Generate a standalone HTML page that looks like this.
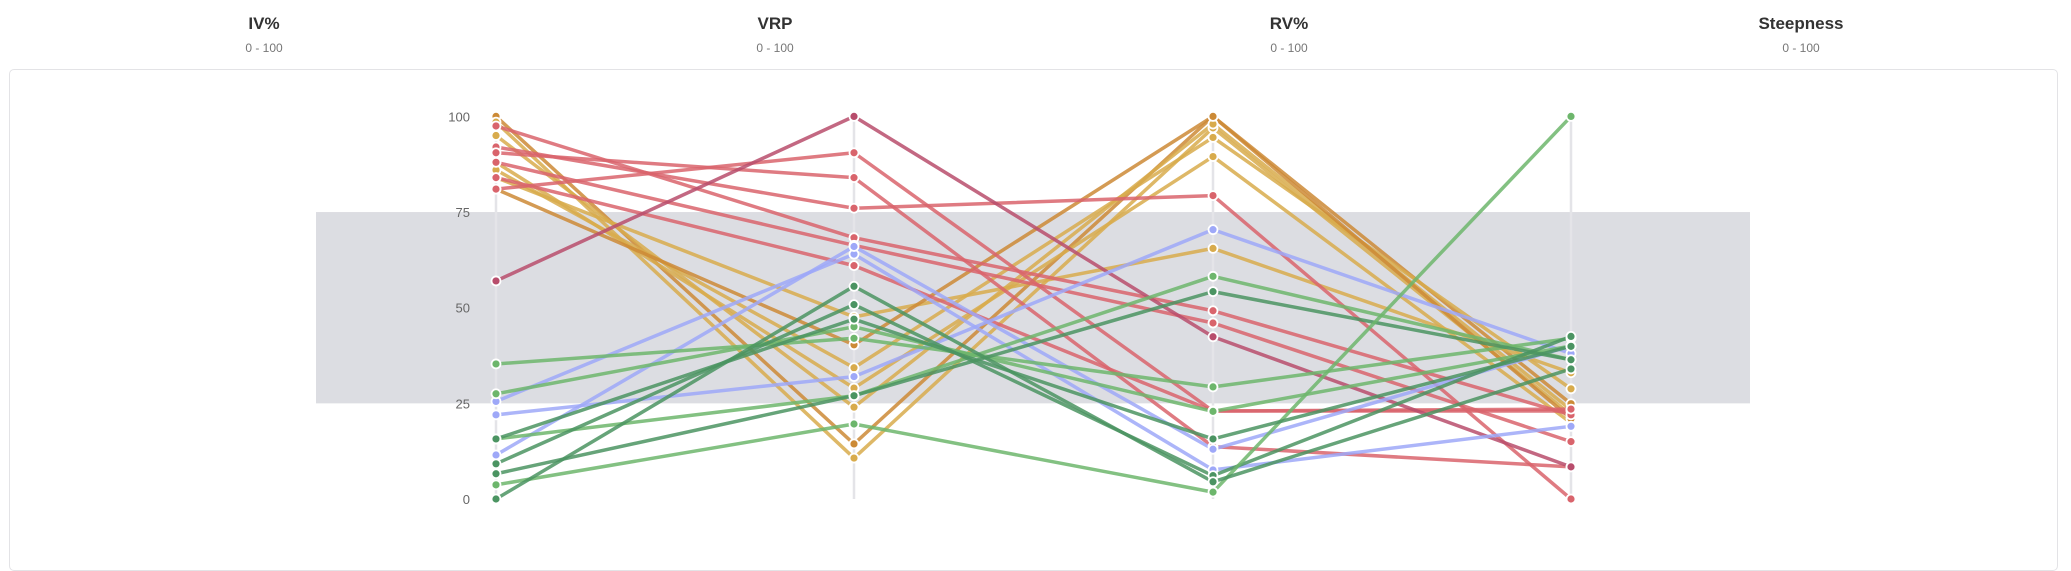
<!DOCTYPE html>
<html><head><meta charset="utf-8"><style>
body{margin:0;background:#fff;width:2071px;height:541px;overflow:hidden;font-family:"Liberation Sans",sans-serif}
.hdr{position:absolute;top:14px;text-align:center;width:200px;margin-left:-100px}
.hdr .t{font-size:17px;font-weight:bold;color:#333}
.hdr .s{font-size:12px;color:#777;margin-top:7px}
#card{position:absolute;left:9px;top:69px;width:2047px;height:500px;border:1px solid #e3e3e6;border-radius:5px}
svg{position:absolute;left:0;top:0}
</style></head><body>
<div class="hdr" style="left:264px"><div class="t">IV%</div><div class="s">0 - 100</div></div>
<div class="hdr" style="left:775px"><div class="t">VRP</div><div class="s">0 - 100</div></div>
<div class="hdr" style="left:1289px"><div class="t">RV%</div><div class="s">0 - 100</div></div>
<div class="hdr" style="left:1801px"><div class="t">Steepness</div><div class="s">0 - 100</div></div>
<div id="card"></div>
<svg id="chart" width="2071" height="541"></svg>
<script>
const dimensions = ["IV%","VRP","RV%","Steepness"];
const yTicks = [0,25,50,75,100];
const band = [25,75];
const seriesColors = ["o","g","g","g","g","g","o","r","r","r","r","r","r","m","b","b","b","n","n","n","n","n","n","n","n"];
const ivValues   = [100,98.5,95,88,86,84,81, 92,81,90.5,97.5,88,84, 57, 25.5,22,11.5, 35.3,27.5,15.7,9.2,6.6,3.7,0,15.7];
const vrpValues  = [14.4,10.7,24,29,34.3,47.6,40.3, 76,90.5,84,68.3,66.3,61, 100, 64,32,66, 42,45,27,50.8,27,19.6,55.6,47];
const rvValues   = [100,97,98,89.5,94.5,65.5,100, 79.3,23,13.7,49.2,46,23, 42.4, 7.6,70.4,13, 29.3,22.9,58.2,6.1,54.2,1.8,4.5,15.7];
const steepValues= [24.9,22,23.3,19.9,28.8,33,21, 0,23,8.4,22,15,23.5, 8.4, 19,38,40, 42,40,36.4,42.5,36.4,100,34,39.9];
const kinds = ["n","n","n","n","n","n","n","n","n","n","n","n","n","n","n","n","n","l","l","l","d","d","l","d","d"];
const palette = {o:"#cc8a36",g:"#d8ab4c",r:"#d9646c",m:"#b84d6c",b:"#9ea8f8",l:"#6db66c",d:"#4b9462"};
const axisX = [496,854,1213,1571];
const y = v => 499 - v*3.826;
const svg = document.getElementById('chart');
const NS = "http://www.w3.org/2000/svg";
function mk(t,a){const e=document.createElementNS(NS,t);for(const k in a)e.setAttribute(k,a[k]);svg.appendChild(e);return e;}
const r = mk('rect',{x:316,y:y(band[1]),width:1434,height:y(band[0])-y(band[1]),fill:"#dcdde2"});


axisX.forEach((x,i)=>{const l=mk('line',{x1:x,x2:x,y1:y(100),y2:y(0),stroke:"#e4e4e8","stroke-width":2.5});

});
yTicks.forEach(t=>{const e=mk('text',{x:470,y:y(t)+5,"text-anchor":"end","font-size":13,fill:"#666","font-family":"Liberation Sans, sans-serif"});e.textContent=t;

});
const all=[ivValues,vrpValues,rvValues,steepValues];
for(let i=0;i<ivValues.length;i++){
  const c = kinds[i]!=="n"?palette[kinds[i]]:palette[seriesColors[i]];
  const pts = all.map((arr,j)=>axisX[j]+","+y(arr[i])).join(" ");
  const p = mk('polyline',{points:pts,fill:"none",stroke:c,"stroke-width":3.5,"stroke-opacity":0.85,"stroke-linejoin":"round"});
  
  
}
for(let i=0;i<ivValues.length;i++){
  const c = kinds[i]!=="n"?palette[kinds[i]]:palette[seriesColors[i]];
  all.forEach((arr,j)=>{const d=mk('circle',{cx:axisX[j],cy:y(arr[i]),r:4.5,fill:c,stroke:"#fff","stroke-width":1.8});
  
  });
}
</script>
</body></html>
